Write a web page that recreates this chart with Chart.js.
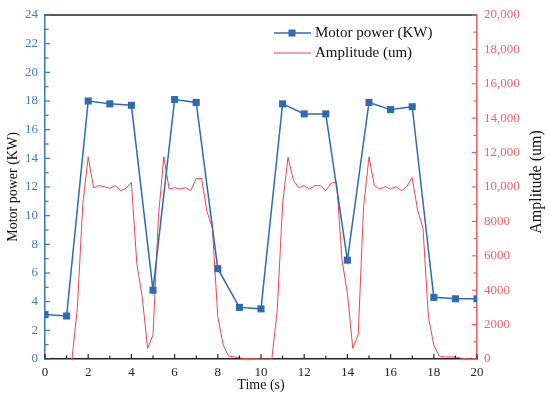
<!DOCTYPE html>
<html>
<head>
<meta charset="utf-8">
<script src="https://cdn.jsdelivr.net/npm/chart.js@4.4.1/dist/chart.umd.min.js"></script>
<style>
  html, body { margin: 0; padding: 0; background: #fff; }
  #wrap { width: 550px; height: 398px; }
</style>
</head>
<body>
<div id="wrap"><canvas id="chart" width="550" height="398"></canvas></div>
<script>
// Motor power, one reading per second
const powerTimes = [0, 1, 2, 3, 4, 5, 6, 7, 8, 9, 10, 11, 12, 13, 14, 15, 16, 17, 18, 19, 20];
const powerValues = [3.1, 3.0, 18.0, 17.8, 17.7, 4.8, 18.1, 17.9, 6.3, 3.6, 3.5, 17.8, 17.1, 17.1, 6.9, 17.9, 17.4, 17.6, 4.3, 4.2, 4.2];

// Amplitude, one reading every quarter second
const ampTimes = [1.25, 1.5, 1.75, 2, 2.25, 2.5, 2.75, 3, 3.25, 3.5, 3.75, 4, 4.25, 4.5, 4.75, 5,
  5.25, 5.5, 5.75, 6, 6.25, 6.5, 6.75, 7, 7.25, 7.5, 7.75, 8, 8.25, 8.5, 8.75, 9,
  9.25, 9.5, 9.75, 10, 10.25, 10.5, 10.75, 11, 11.25, 11.5, 11.75, 12, 12.25, 12.5, 12.75, 13,
  13.25, 13.5, 13.75, 14, 14.25, 14.5, 14.75, 15, 15.25, 15.5, 15.75, 16, 16.25, 16.5, 16.75, 17,
  17.25, 17.5, 17.75, 18, 18.25, 18.5, 18.75, 19, 19.25, 19.5, 19.75, 20];
const ampValues = [0, 3000, 9000, 11750, 9950, 10080, 10020, 9920, 10080, 9790, 9920, 10270, 5560, 3620, 620, 1400,
  8270, 11760, 9880, 9960, 9880, 9960, 9790, 10500, 10500, 8570, 7600, 2460, 810, 170, 120, 60,
  30, 20, 10, 0, 0, 0, 2800, 9000, 11730, 10400, 9960, 10080, 9880, 10080, 10080, 9790,
  10210, 10310, 5760, 3820, 620, 1400, 8860, 11760, 10080, 9880, 10020, 9880, 10020, 9790, 10020, 10540,
  8660, 7600, 2460, 810, 170, 120, 120, 120, 50, 20, 10, 0];

const seriesNames = ['Motor power (KW)', 'Amplitude (um)'];

const BLUE = '#2E6BB0';
const RED = '#F0444F';
const FONT = 'Liberation Serif';

// ticks pointing into the plot, plus the top frame line, legend and right title
const extras = {
  id: 'extras',
  afterDraw(chart) {
    const ctx = chart.ctx;
    const a = chart.chartArea;
    ctx.save();

    // top frame
    ctx.strokeStyle = '#222';
    ctx.lineWidth = 1.5;
    ctx.beginPath();
    ctx.moveTo(a.left, a.top);
    ctx.lineTo(a.right, a.top);
    ctx.stroke();

    const inward = (scale, color, dir) => {
      ctx.strokeStyle = color;
      ctx.lineWidth = 1.2;
      scale.ticks.forEach(t => {
        const len = t.label !== '' ? 5 : 3.5;
        const p = scale.getPixelForValue(t.value);
        ctx.beginPath();
        if (dir === 'up') { ctx.moveTo(p, a.bottom); ctx.lineTo(p, a.bottom - len); }
        if (dir === 'right') { ctx.moveTo(a.left, p); ctx.lineTo(a.left + len, p); }
        if (dir === 'left') { ctx.moveTo(a.right, p); ctx.lineTo(a.right - len, p); }
        ctx.stroke();
      });
    };
    inward(chart.scales.x, '#222', 'up');
    inward(chart.scales.y, '#3A76BD', 'right');
    inward(chart.scales.y1, '#F25C66', 'left');

    // legend
    ctx.font = '15px "' + FONT + '"';
    ctx.textBaseline = 'middle';
    ctx.textAlign = 'left';
    ctx.lineWidth = 1.5;
    ctx.strokeStyle = BLUE;
    ctx.beginPath(); ctx.moveTo(274, 33); ctx.lineTo(311, 33); ctx.stroke();
    ctx.fillStyle = BLUE;
    ctx.fillRect(288.5, 29.5, 7, 7);
    ctx.strokeStyle = RED;
    ctx.lineWidth = 1;
    ctx.beginPath(); ctx.moveTo(274, 53); ctx.lineTo(311, 53); ctx.stroke();
    ctx.fillStyle = '#111';
    ctx.fillText(seriesNames[0], 315, 33);
    ctx.fillText(seriesNames[1], 315, 53);

    // right axis title, reading bottom to top
    ctx.font = '16px "' + FONT + '"';
    ctx.translate(537, 182);
    ctx.rotate(-Math.PI / 2);
    ctx.textAlign = 'center';
    ctx.fillText('Amplitude (um)', 0, 0);
    ctx.restore();
  }
};

const ctx = document.getElementById('chart').getContext('2d');
new Chart(ctx, {
  type: 'line',
  data: {
    datasets: [
      {
        label: seriesNames[0],
        data: powerTimes.map((t, i) => ({ x: t, y: powerValues[i] })),
        yAxisID: 'y',
        borderColor: BLUE,
        backgroundColor: BLUE,
        borderWidth: 1.5,
        pointStyle: 'rect',
        pointRadius: 5,
        pointBorderWidth: 0,
        tension: 0
      },
      {
        label: seriesNames[1],
        data: ampTimes.map((t, i) => ({ x: t, y: ampValues[i] })),
        yAxisID: 'y1',
        borderColor: RED,
        borderWidth: 1,
        pointRadius: 0,
        tension: 0
      }
    ]
  },
  options: {
    responsive: false,
    animation: false,
    layout: { padding: { top: 15, left: 0, right: 0, bottom: 0 } },
    plugins: { legend: { display: false }, tooltip: { enabled: false } },
    scales: {
      x: {
        type: 'linear',
        min: 0, max: 20,
        afterFit: s => { s.height = 39; },
        grid: { display: false, drawTicks: false },
        border: { display: true, color: '#222', width: 1.5 },
        ticks: {
          stepSize: 1, autoSkip: false, padding: 6, color: '#222',
          font: { family: FONT, size: 13 },
          callback: v => (v % 2 === 0 ? String(v) : '')
        },
        title: {
          display: true, text: 'Time (s)', color: '#111',
          font: { family: FONT, size: 14 }, padding: { top: 0, bottom: 4 }
        }
      },
      y: {
        position: 'left',
        min: 0, max: 24,
        afterFit: s => { s.width = 45; },
        grid: { display: false, drawTicks: false },
        border: { display: true, color: '#3A76BD', width: 1.5 },
        ticks: {
          stepSize: 1, autoSkip: false, padding: 7, color: '#3F7DC5',
          font: { family: FONT, size: 13 },
          callback: v => (v % 2 === 0 ? String(v) : '')
        },
        title: {
          display: true, text: 'Motor power (KW)', color: '#111',
          font: { family: FONT, size: 14 }, padding: { top: 5, bottom: 0 }
        }
      },
      y1: {
        position: 'right',
        min: 0, max: 20000,
        afterFit: s => { s.width = 73; },
        grid: { display: false, drawTicks: false },
        border: { display: true, color: '#F25C66', width: 1.5 },
        ticks: {
          stepSize: 1000, autoSkip: false, padding: 7, color: '#F0626B',
          font: { family: FONT, size: 13 },
          callback: v => (v % 2000 !== 0 ? '' : (v >= 10000 ? v.toLocaleString('en-US') : String(v)))
        }
      }
    }
  },
  plugins: [extras]
});
</script>
</body>
</html>
